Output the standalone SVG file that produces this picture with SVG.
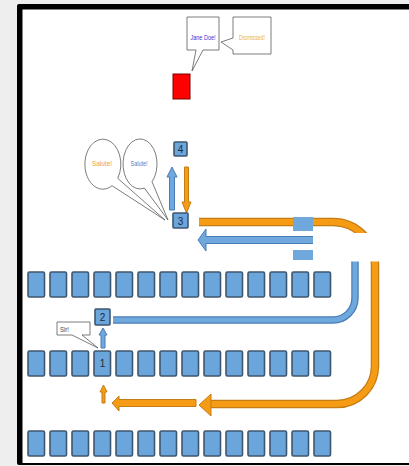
<svg xmlns="http://www.w3.org/2000/svg" width="409" height="466" viewBox="0 0 409 466">
<style>
.sq{fill:#6aa6dc;stroke:#3f566f;stroke-width:1.6}
.num{font-family:"Liberation Sans",sans-serif;font-size:10px;fill:#1f2a36;text-anchor:middle}
.co{fill:#fff;stroke:#5a5a5a;stroke-width:0.8}
.ct{font-family:"Liberation Sans",sans-serif;font-size:8px;text-anchor:middle}
.bo{fill:none;stroke:#4a7cb5;stroke-linecap:butt}
.bi{fill:none;stroke:#6fa8dc;stroke-linecap:butt}
.oo{fill:none;stroke:#c47d14;stroke-linecap:butt}
.oi{fill:none;stroke:#f59b14;stroke-linecap:butt}
.bh{fill:#6fa8dc;stroke:#4a7cb5;stroke-width:1}
.oh{fill:#f59b14;stroke:#c47d14;stroke-width:1}
</style>
<defs>
<rect id="s" class="sq" width="16.5" height="25" rx="1.5"/>
</defs>
<rect width="409" height="466" fill="#eeeeee"/>
<rect x="17" y="4" width="400" height="461" rx="2" fill="#000"/>
<rect x="22.5" y="9.5" width="395" height="453.5" fill="#fff"/>

<g id="connectors">
  <path class="oo" stroke-width="8.5" d="M199,222 H333 A42,42 0 0 1 375,264 V366 A38,38 0 0 1 337,404 H211"/>
  <path class="oi" stroke-width="6" d="M199,222 H333 A42,42 0 0 1 375,264 V366 A38,38 0 0 1 337,404 H211"/>
  <polygon class="oh" points="199,405 211,394 211,416"/>
  <polygon class="oh" points="112,403 119,396 119,399.5 196,399.5 196,406.5 119,406.5 119,411"/>
  <path class="bo" stroke-width="7.5" d="M113,320 H333 A22,22 0 0 0 355,298 V255"/>
  <path class="bi" stroke-width="5" d="M113,320 H333 A22,22 0 0 0 355,298 V255"/>
  <polygon class="bh" points="198,240 206,229 206,236.5 315,236.5 315,243.5 206,243.5 206,251"/>
  <rect x="313" y="233" width="72" height="28.5" fill="#fff"/>
  <rect x="293" y="217" width="20" height="14" fill="#6fa8dc"/>
  <rect x="293" y="250" width="20" height="10" fill="#6fa8dc"/>
  <polygon class="bh" points="172,167 177,177 174.5,177 174.5,210 169.5,210 169.5,177 167,177"/>
  <polygon class="oh" points="186.5,213 191,202 188.5,202 188.5,167 184.5,167 184.5,202 182,202"/>
  <polygon class="bh" points="103,328 107,335 105,335 105,348 101,348 101,335 99,335"/>
  <polygon class="oh" points="103.5,385 107,392 105,392 105,403 102,403 102,392 100,392"/>
</g>

<g id="row1">
  <use href="#s" x="28" y="272"/><use href="#s" x="50" y="272"/><use href="#s" x="72" y="272"/><use href="#s" x="94" y="272"/><use href="#s" x="116" y="272"/><use href="#s" x="138" y="272"/><use href="#s" x="160" y="272"/><use href="#s" x="182" y="272"/><use href="#s" x="204" y="272"/><use href="#s" x="226" y="272"/><use href="#s" x="248" y="272"/><use href="#s" x="270" y="272"/><use href="#s" x="292" y="272"/><use href="#s" x="314" y="272"/>
</g>
<g id="row2">
  <use href="#s" x="28" y="351"/><use href="#s" x="50" y="351"/><use href="#s" x="72" y="351"/><use href="#s" x="116" y="351"/><use href="#s" x="138" y="351"/><use href="#s" x="160" y="351"/><use href="#s" x="182" y="351"/><use href="#s" x="204" y="351"/><use href="#s" x="226" y="351"/><use href="#s" x="248" y="351"/><use href="#s" x="270" y="351"/><use href="#s" x="292" y="351"/><use href="#s" x="314" y="351"/>
</g>
<g id="node1">
  <use href="#s" x="94" y="351"/>
  <text class="num" x="102.5" y="367">1</text>
</g>
<g id="row3">
  <use href="#s" x="28" y="431"/><use href="#s" x="50" y="431"/><use href="#s" x="72" y="431"/><use href="#s" x="94" y="431"/><use href="#s" x="116" y="431"/><use href="#s" x="138" y="431"/><use href="#s" x="160" y="431"/><use href="#s" x="182" y="431"/><use href="#s" x="204" y="431"/><use href="#s" x="226" y="431"/><use href="#s" x="248" y="431"/><use href="#s" x="270" y="431"/><use href="#s" x="292" y="431"/><use href="#s" x="314" y="431"/>
</g>
<g id="node2">
  <rect class="sq" x="95" y="309" width="15" height="16" rx="1"/>
  <text class="num" x="102.5" y="321">2</text>
</g>
<g id="node3">
  <rect class="sq" x="173" y="213" width="15" height="15" rx="1"/>
  <text class="num" x="180.5" y="224.5">3</text>
</g>
<g id="node4">
  <rect class="sq" x="174" y="142" width="13" height="14" rx="1"/>
  <text class="num" x="180.5" y="153">4</text>
</g>
<g id="red">
  <rect x="173" y="74" width="17" height="25" fill="#ff0000" stroke="#7a0000" stroke-width="1"/>
</g>

<g id="callout-jane">
  <path class="co" d="M187,17 H219 V50 H203 L192,71 L196,50 H187 Z"/>
  <text class="ct" x="203" y="40" fill="#3535d8" textLength="25" lengthAdjust="spacingAndGlyphs">Jane Doe!</text>
</g>
<g id="callout-dismissed">
  <path class="co" d="M233,17 H271 V54 H233 V50 L221,42 L233,38 Z"/>
  <text class="ct" x="252" y="40" fill="#e9b24e" textLength="26" lengthAdjust="spacingAndGlyphs">Dismissed!</text>
</g>
<g id="callout-salute1">
  <path class="co" d="M112,185.7 L165,220 L117.7,178.3 A18,25 0 1 0 112,185.7 Z"/>
  <text class="ct" x="102" y="166" fill="#f0a030" textLength="20" lengthAdjust="spacingAndGlyphs">Salute!</text>
</g>
<g id="callout-salute2">
  <path class="co" d="M144.4,188.1 L168,220 L152,181.7 A17,25 0 1 0 144.4,188.1 Z"/>
  <text class="ct" x="139" y="166" fill="#4a7cc8" textLength="17" lengthAdjust="spacingAndGlyphs">Salute!</text>
</g>
<g id="callout-sir">
  <path class="co" d="M57,322 H90 V335 H82 L98,348 L72,335 H57 Z"/>
  <text class="ct" x="64.5" y="331.5" fill="#444" font-size="7.5" textLength="9" lengthAdjust="spacingAndGlyphs">Sir!</text>
</g>
</svg>
